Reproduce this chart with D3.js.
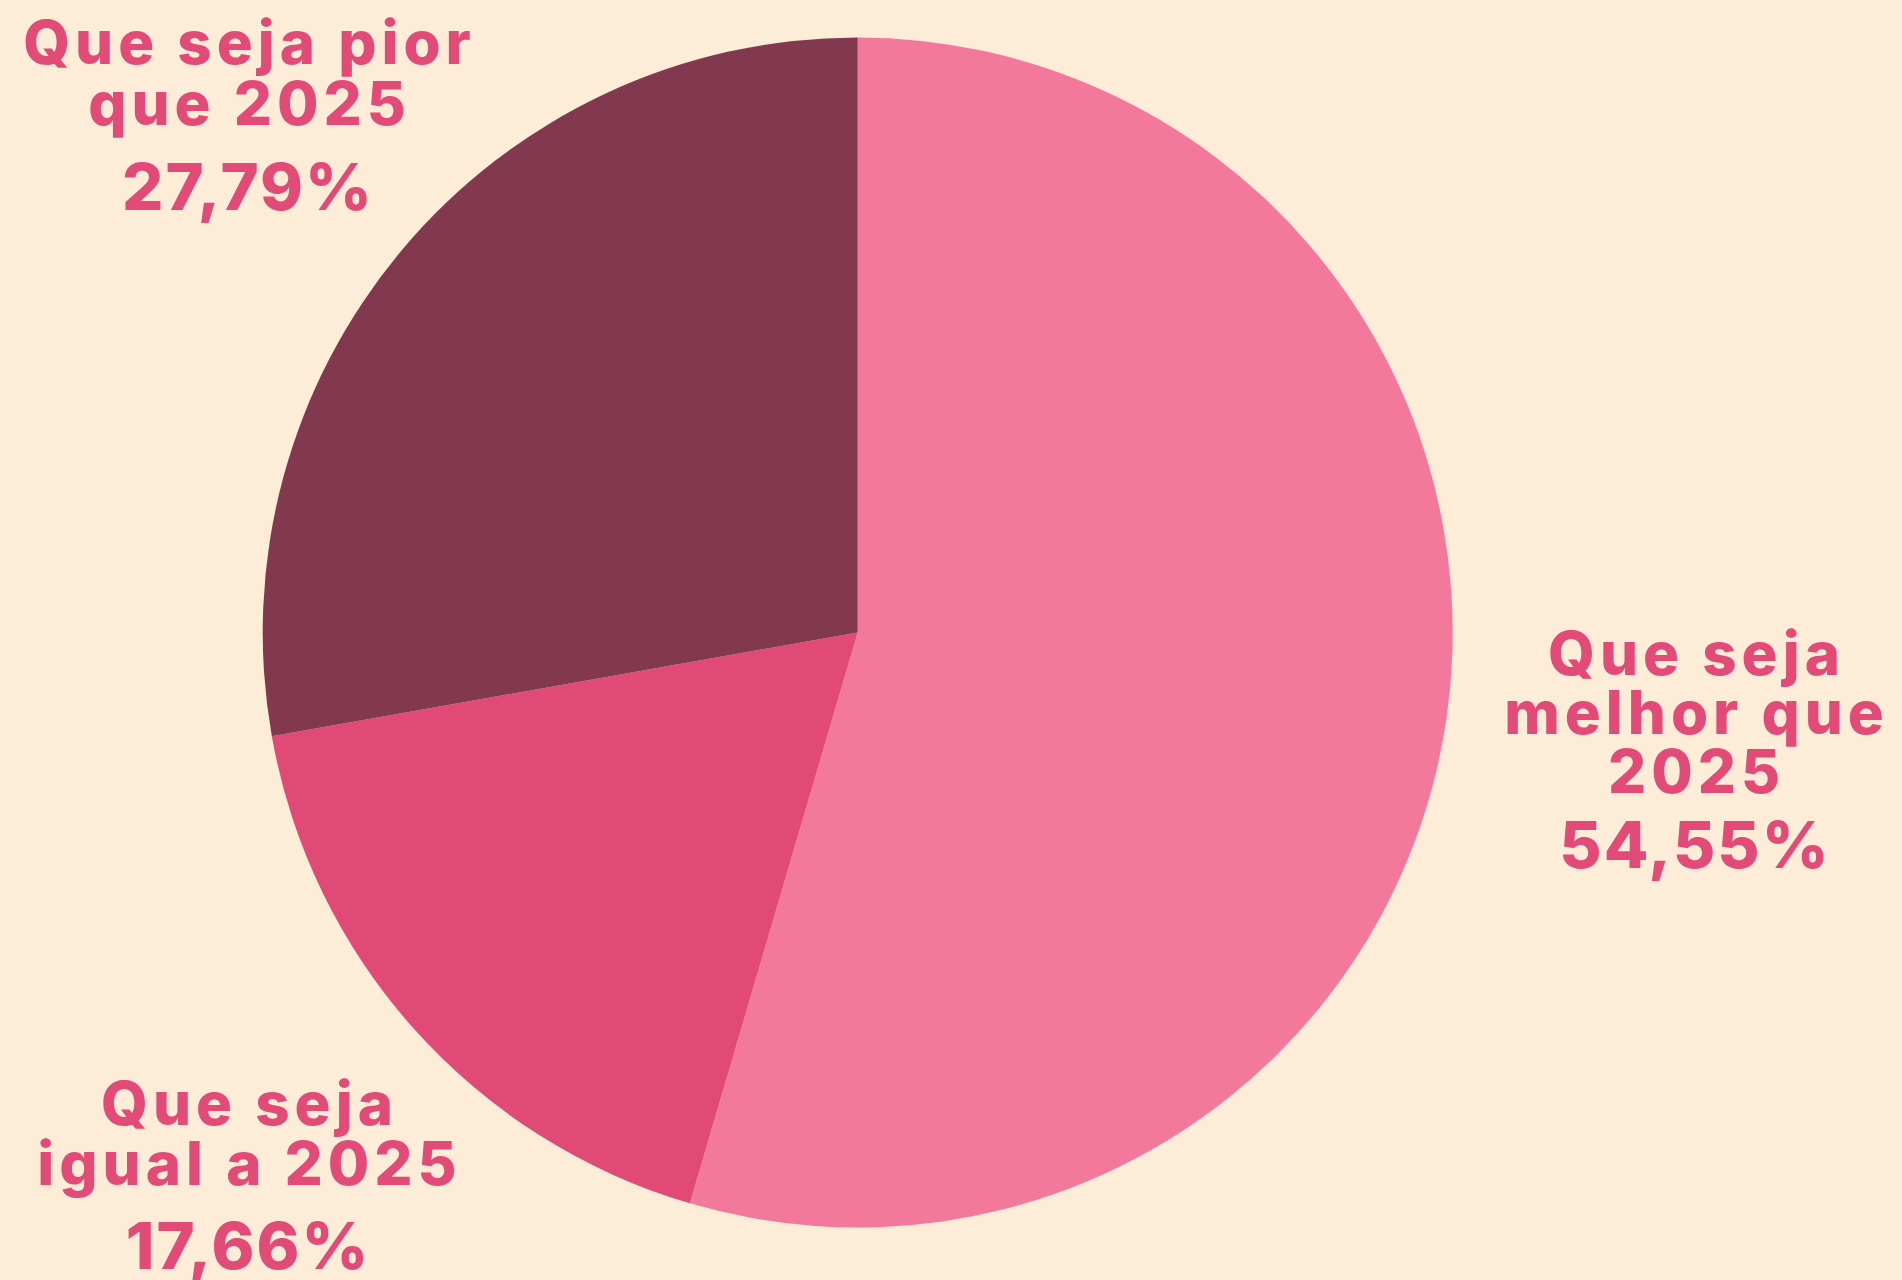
<!DOCTYPE html>
<html>
<head>
<meta charset="utf-8">
<script src="https://cdn.jsdelivr.net/npm/d3@7"></script>
<style>
  html, body { margin: 0; padding: 0; background: #fdecd8; }
  svg { display: block; }
  .label { font-family: "Inter", "Lato", sans-serif; font-weight: 800; fill: #e24a77; }
</style>
</head>
<body>
<div id="chart"></div>
<script>
const categories = [
  ["Que seja", "melhor que", "2025"],
  ["Que seja", "igual a 2025"],
  ["Que seja pior", "que 2025"],
];
const values = [54.55, 17.66, 27.79];
const colors = ["#f2799c", "#e14a77", "#82394f"];

// label anchor placement (center x, first baseline y, line gap, percent baseline)
const labelPos = [
  { x: 1694, y: 675, gap: 59, pctY: 868 },
  { x: 247, y: 1125, gap: 60, pctY: 1269 },
  { x: 247, y: 64, gap: 61, pctY: 210 },
];

const width = 1902;
const height = 1280;
const cx = 857.7;
const cy = 632.5;
const radius = 595;

const nameSize = 60;
const nameSpacing = 5;
const pctSize = 65;
const pctSpacing = 2;

const svg = d3.select("#chart")
  .append("svg")
  .attr("width", width)
  .attr("height", height);

const pie = d3.pie().sort(null).value((d) => d);
const arc = d3.arc().innerRadius(0).outerRadius(radius);
const arcs = pie(values);

svg.append("g")
  .attr("transform", `translate(${cx},${cy})`)
  .selectAll("path")
  .data(arcs)
  .join("path")
  .attr("fill", (d, i) => colors[i])
  .attr("d", arc);

const fmt = (v) => v.toFixed(2).replace(".", ",") + "%";

const labels = svg.append("g")
  .selectAll("g")
  .data(arcs)
  .join("g")
  .attr("class", "label")
  .attr("text-anchor", "middle");

labels.each(function (d, i) {
  const g = d3.select(this);
  const p = labelPos[i];
  categories[i].forEach((line, j) => {
    g.append("text")
      .attr("x", p.x + nameSpacing / 2)
      .attr("y", p.y + j * p.gap)
      .attr("font-size", nameSize)
      .attr("letter-spacing", nameSpacing)
      .text(line);
  });
  g.append("text")
    .attr("x", p.x + pctSpacing / 2)
    .attr("y", p.pctY)
    .attr("font-size", pctSize)
    .attr("letter-spacing", pctSpacing)
    .text(fmt(d.data));
});
</script>
</body>
</html>
